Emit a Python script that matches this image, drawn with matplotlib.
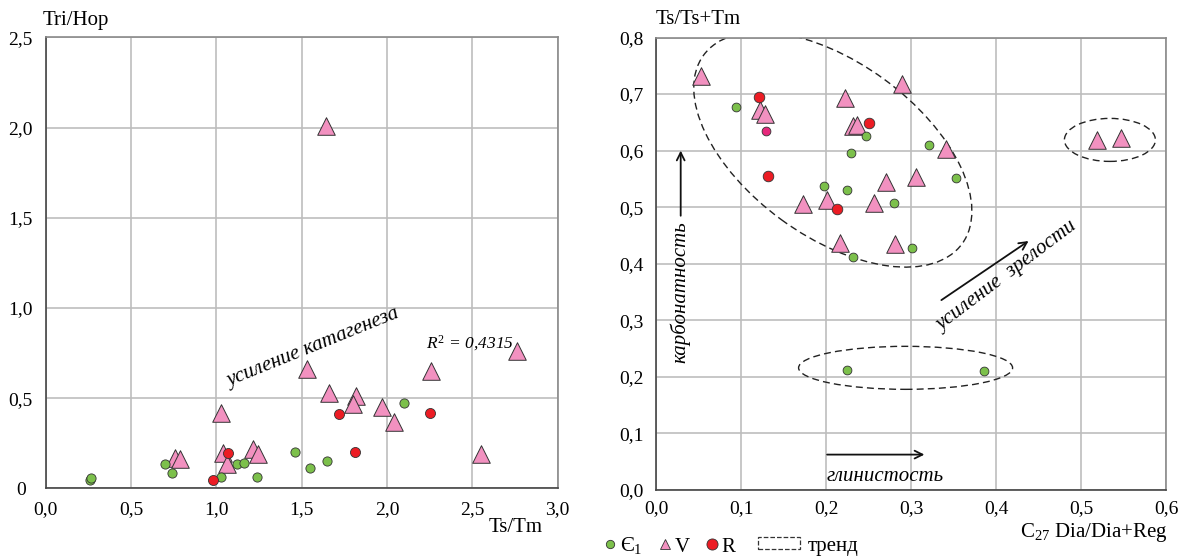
import matplotlib
matplotlib.use('Agg')
import matplotlib.pyplot as plt
from matplotlib.patches import Ellipse, Patch
from matplotlib.lines import Line2D
from matplotlib.transforms import ScaledTranslation

plt.rcParams['font.family'] = ['Liberation Serif', 'DejaVu Serif']
plt.rcParams['mathtext.fontset'] = 'custom'
plt.rcParams['mathtext.rm'] = 'Liberation Serif'
plt.rcParams['mathtext.it'] = 'Liberation Serif:italic'

# цвета групп
c_green = '#7cc04b'
c_pink = '#f291c0'
c_red = '#ec1c24'
c_mag = '#e6287b'

# левый график: Ts/Tm -- Tri/Hop
l_tri_x = [1.64, 2.76, 2.26, 1.53, 1.66, 1.82, 1.80, 1.97, 2.04, 1.03, 2.55, 0.76, 0.785, 1.036, 1.06, 1.217, 1.242]
l_tri_y = [2.01, 0.76, 0.65, 0.66, 0.53, 0.51, 0.47, 0.45, 0.37, 0.42, 0.19, 0.17, 0.16, 0.198, 0.133, 0.216, 0.188]
l_grn_x = [0.258, 0.265, 0.697, 0.742, 1.03, 1.119, 1.162, 1.237, 1.46, 1.55, 1.65, 2.10]
l_grn_y = [0.048, 0.056, 0.137, 0.087, 0.063, 0.137, 0.142, 0.063, 0.20, 0.11, 0.15, 0.475]
l_red_x = [0.98, 1.066, 1.72, 1.81, 2.25]
l_red_y = [0.046, 0.194, 0.41, 0.20, 0.42]
l_xticks = [0, 0.5, 1.0, 1.5, 2.0, 2.5, 3.0]
l_xlabels = ['0,0', '0,5', '1,0', '1,5', '2,0', '2,5', '3,0']
l_yticks = [0, 0.5, 1.0, 1.5, 2.0, 2.5]
l_ylabels = ['0', '0,5', '1,0', '1,5', '2,0', '2,5']

# правый график: C27 Dia/Dia+Reg -- Ts/Ts+Tm
r_tri_x = [0.053, 0.289, 0.222, 0.122, 0.128, 0.232, 0.236, 0.341, 0.271, 0.306, 0.173, 0.201, 0.257, 0.216, 0.281, 0.519, 0.547]
r_tri_y = [0.732, 0.718, 0.693, 0.671, 0.664, 0.644, 0.645, 0.603, 0.545, 0.553, 0.506, 0.513, 0.508, 0.437, 0.435, 0.619, 0.622]
r_grn_x = [0.094, 0.247, 0.229, 0.321, 0.353, 0.198, 0.225, 0.280, 0.301, 0.232, 0.225, 0.386]
r_grn_y = [0.678, 0.626, 0.595, 0.610, 0.552, 0.538, 0.530, 0.508, 0.428, 0.412, 0.213, 0.211]
r_red_x = [0.121, 0.132, 0.250, 0.213]
r_red_y = [0.694, 0.555, 0.648, 0.496]
r_mag_x = [0.129]
r_mag_y = [0.635]
r_xticks = [0, 0.1, 0.2, 0.3, 0.4, 0.5, 0.6]
r_xlabels = ['0,0', '0,1', '0,2', '0,3', '0,4', '0,5', '0,6']
r_yticks = [0, 0.1, 0.2, 0.3, 0.4, 0.5, 0.6, 0.7, 0.8]
r_ylabels = ['0,0', '0,1', '0,2', '0,3', '0,4', '0,5', '0,6', '0,7', '0,8']

# эллипсы тренда: центр (данные), ширина/высота (дюймы), угол
trend_ell = [((0.208, 0.602), 3.20, 1.74, -36.1),
             ((0.534, 0.619), 0.91, 0.43, 0),
             ((0.2936, 0.216), 2.14, 0.43, 0)]

fig = plt.figure(figsize=(11.81, 5.56), dpi=100)
ax1 = fig.add_axes([0.0387, 0.1218, 0.4335, 0.8108])
ax2 = fig.add_axes([0.5555, 0.1187, 0.4318, 0.8138])


def style_axes(ax, xt, xl, yt, yl, xpad, ypad):
    ax.set_xticks(xt)
    ax.set_xticklabels(xl)
    ax.set_yticks(yt)
    ax.set_yticklabels(yl)
    ax.set_xlim(xt[0], xt[-1])
    ax.set_ylim(yt[0], yt[-1])
    ax.grid(True, color='#bdbdbd', lw=1.2)
    ax.set_axisbelow(True)
    ax.tick_params(length=0, labelsize=14)
    ax.tick_params(axis='x', pad=xpad)
    ax.tick_params(axis='y', pad=ypad)
    for s in ['left', 'bottom']:
        ax.spines[s].set_color('#444444')
    for s in ['top', 'right']:
        ax.spines[s].set_color('#8a8a8a')
    for s in ax.spines.values():
        s.set_linewidth(1.2)


style_axes(ax1, l_xticks, l_xlabels, l_yticks, l_ylabels, 9, 18)
for lab in ax1.get_yticklabels():
    lab.set_ha('center')
style_axes(ax2, r_xticks, r_xlabels, r_yticks, r_ylabels, 7, 9)

ax1.scatter(l_tri_x, l_tri_y, marker='^', s=160, c=c_pink, edgecolors='#333333', linewidths=0.7, zorder=3)
ax1.scatter(l_grn_x, l_grn_y, marker='o', s=44, c=c_green, edgecolors='#333333', linewidths=0.6, zorder=4)
ax1.scatter(l_red_x, l_red_y, marker='o', s=52, c=c_red, edgecolors='#333333', linewidths=0.6, zorder=5)

ax1.text(1.57, 0.78, 'усиление катагенеза', fontsize=15, style='italic',
         rotation=22, ha='center', va='center', rotation_mode='anchor')
ax1.text(2.23, 0.805, '$R^2$ = 0,4315', fontsize=12.5, style='italic', ha='left', va='center')

ax2.scatter(r_tri_x, r_tri_y, marker='^', s=160, c=c_pink, edgecolors='#333333', linewidths=0.7, zorder=3)
ax2.scatter(r_grn_x, r_grn_y, marker='o', s=40, c=c_green, edgecolors='#333333', linewidths=0.6, zorder=4)
ax2.scatter(r_red_x, r_red_y, marker='o', s=58, c=c_red, edgecolors='#333333', linewidths=0.6, zorder=5)
ax2.scatter(r_mag_x, r_mag_y, marker='o', s=40, c=c_mag, edgecolors='#333333', linewidths=0.6, zorder=5)

for (cx, cy), w, h, ang in trend_ell:
    tr = fig.dpi_scale_trans + ScaledTranslation(cx, cy, ax2.transData)
    ax2.add_patch(Ellipse((0, 0), w, h, angle=ang, transform=tr, fill=False,
                          ec='#222222', lw=1.0, ls=(0, (5, 3)), zorder=2))

arr = dict(arrowstyle='->', lw=1.3, color='#111111', mutation_scale=14)
ax2.annotate('', xy=(0.029, 0.605), xytext=(0.029, 0.48), arrowprops=arr)
ax2.annotate('', xy=(0.441, 0.443), xytext=(0.333, 0.333), arrowprops=arr)
ax2.annotate('', xy=(0.319, 0.0626), xytext=(0.198, 0.0626), arrowprops=arr)

ax2.text(0.028, 0.349, 'карбонатность', fontsize=15, style='italic', rotation=90,
         ha='center', va='center', rotation_mode='anchor')
ax2.text(0.413, 0.378, 'усиление  зрелости', fontsize=15, style='italic', rotation=37,
         ha='center', va='center', rotation_mode='anchor')
ax2.text(0.270, 0.0235, 'глинистость', fontsize=15, style='italic', ha='center', va='center')

# подписи осей
fig.text(43 / 1181, 1 - 21 / 556, 'Tri/Hop', fontsize=15, ha='left', va='center')
fig.text(543 / 1181, 1 - 528 / 556, 'Ts/Tm', fontsize=15, ha='right', va='center')
fig.text(656 / 1181, 1 - 20 / 556, 'Ts/Ts+Tm', fontsize=15, ha='left', va='center')
fig.text(1167 / 1181, 1 - 532 / 556, 'C$_{27}$ Dia/Dia+Reg', fontsize=15, ha='right', va='center')

# легенда
h_mark = [Line2D([], [], ls='none', marker='o', ms=6, mfc=c_green, mec='#333333', mew=0.6),
          Line2D([], [], ls='none', marker='^', ms=7, mfc=c_pink, mec='#333333', mew=0.6),
          Line2D([], [], ls='none', marker='o', ms=8, mfc=c_red, mec='#333333', mew=0.6)]
fig.legend(h_mark, ['Є$_1$', 'V', 'R'], loc='center left', bbox_to_anchor=(604 / 1181, 1 - 546 / 556),
           ncol=3, frameon=False, fontsize=15, handlelength=0.6, handletextpad=0.15,
           columnspacing=0.8, borderpad=0, borderaxespad=0)
h_trend = [Patch(fill=False, ec='#333333', ls='--', lw=0.9)]
fig.legend(h_trend, ['тренд'], loc='center left', bbox_to_anchor=(758 / 1181, 1 - 546 / 556),
           frameon=False, fontsize=15, handlelength=2.0, handleheight=0.5, handletextpad=0.4,
           borderpad=0, borderaxespad=0)

fig.savefig('out.png', dpi=100)
